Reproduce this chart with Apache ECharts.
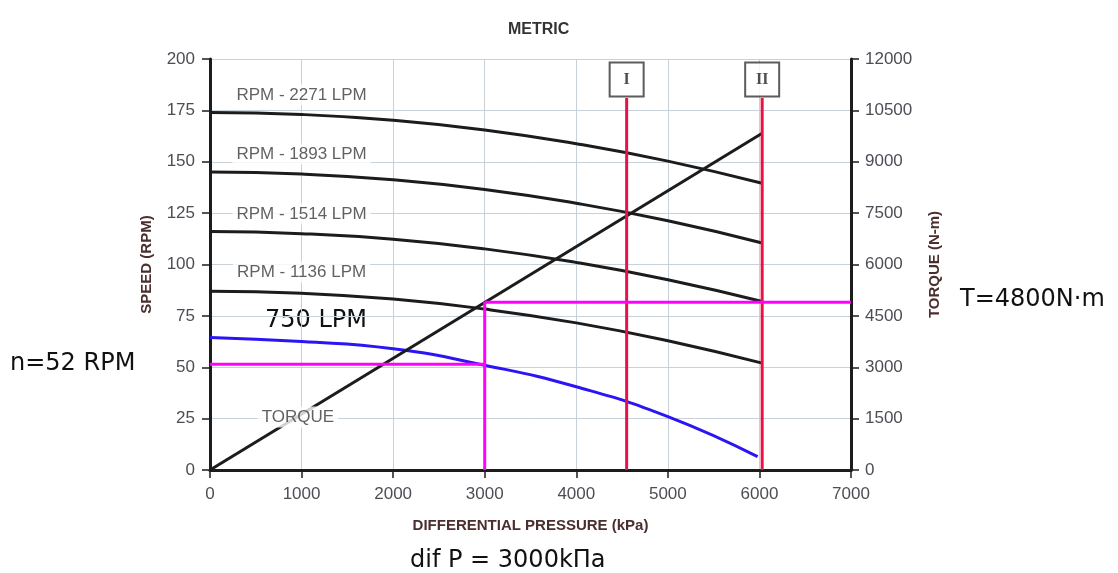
<!DOCTYPE html>
<html>
<head>
<meta charset="utf-8">
<script src="https://cdn.jsdelivr.net/npm/echarts@6/dist/echarts.min.js"></script>
<style>
  html, body { margin: 0; padding: 0; background: #fff; }
  #chart { width: 1118px; height: 573px; }
</style>
</head>
<body>
<div id="chart"></div>
<script>
// 压差 kPa（黑色曲线共用）
var pressure = [0, 1000, 2000, 3000, 4000, 5000, 6030];
var rpm2271 = [174, 173, 170.2, 165.5, 158.8, 150.3, 139.5];
var rpm1893 = [145, 144, 141.2, 136.5, 129.8, 121.3, 110.5];
var rpm1514 = [116, 115, 112.3, 107.6, 101, 92.6, 82];
var rpm1136 = [87, 86, 83.2, 78.3, 71.6, 62.9, 52];
// 750 LPM（蓝线）
var pressure750 = [0, 1000, 2000, 3000, 4000, 5000, 5980];
var rpm750 = [64.5, 62.5, 59, 51, 40.5, 26, 6.5];
// 扭矩直线
var torqueX = [0, 6030];
var torqueY = [0, 9830];
// 工况线 I / II
var limitX = [4550, 6030];
var limitNames = ['I', 'II'];
var limitTop = 181;
var boxY = 190;
// 读数（品红线）
var readP = 3000;
var readN = 51.5;
var readT = 4900;
var readTSpeed = 81.7;
// 曲线标签
var curveLabels = ['RPM - 2271 LPM', 'RPM - 1893 LPM', 'RPM - 1514 LPM', 'RPM - 1136 LPM', 'TORQUE'];
var curveLabelX = [1000, 1000, 1000, 1000, 960];
var curveLabelY = [182.5, 153.8, 124.6, 96.4, 25.8];

function Zip(xs, ys){
  var out = [];
  for (var i = 0; i < xs.length; i++) out.push([xs[i], ys[i]]);
  return out;
}

var black = '#1c1c1c';
var lineFn = function(name, data, color, yIdx, smooth){
  return {
    name: name,
    type: 'line',
    yAxisIndex: yIdx || 0,
    data: data,
    smooth: smooth === undefined ? 0.5 : smooth,
    symbol: 'none',
    silent: true,
    z: 3,
    lineStyle: { color: color, width: 3 }
  };
};

var series = [
  lineFn('2271', Zip(pressure, rpm2271), black),
  lineFn('1893', Zip(pressure, rpm1893), black),
  lineFn('1514', Zip(pressure, rpm1514), black),
  lineFn('1136', Zip(pressure, rpm1136), black),
  lineFn('750', Zip(pressure750, rpm750), '#2b14f5'),
  lineFn('torque', Zip(torqueX, torqueY), black, 1, false)
];
// 红色竖线
limitX.forEach(function(x, i){
  series.push(lineFn('limit' + i, [[x, 0], [x, limitTop]], '#e8124a', 0, false));
});
// 品红读数线
series.push(lineFn('readN', [[0, readN], [readP, readN]], '#ff00ff', 0, false));
series.push(lineFn('readP', [[readP, 0], [readP, readTSpeed]], '#ff00ff', 0, false));
series.push(lineFn('readT', [[readP, readT], [7000, readT]], '#ff00ff', 1, false));
// I / II 方框
series.push({
  type: 'scatter',
  data: limitX.map(function(x, i){ return { value: [x, boxY], name: limitNames[i] }; }),
  symbol: 'rect',
  symbolSize: [34, 34],
  silent: true,
  zlevel: 1,
  itemStyle: { color: '#fff', borderColor: '#333', borderWidth: 2 },
  label: {
    show: true, position: 'inside', formatter: '{b}',
    fontFamily: 'Liberation Serif', fontWeight: 'bold', fontSize: 16, color: '#222'
  }
});
// 曲线文字（白底盖住网格和扭矩线）
series.push({
  type: 'scatter',
  data: curveLabels.map(function(t, i){ return { value: [curveLabelX[i], curveLabelY[i]], name: t }; }),
  symbolSize: 1,
  itemStyle: { color: 'rgba(0,0,0,0)' },
  silent: true,
  zlevel: 1,
  label: {
    show: true, position: 'inside', formatter: '{b}',
    fontFamily: 'Liberation Sans', fontSize: 17, color: '#3a3a3a',
    backgroundColor: '#fff', padding: [2, 4]
  }
});

var axisName = { fontFamily: 'Liberation Sans', fontWeight: 'bold', fontSize: 15, color: '#4b2e2e' };
var tickLabel = { fontFamily: 'Liberation Sans', fontSize: 17, color: '#4d4d55', formatter: function(v){ return String(v); } };
var tickLine = { show: true, length: 8, lineStyle: { color: black, width: 1.5 } };

var option = {
  animation: false,
  backgroundColor: '#fff',
  title: {
    text: 'METRIC', left: 503, top: 17,
    textStyle: { fontFamily: 'Liberation Sans', fontWeight: 'bold', fontSize: 16, color: '#333' }
  },
  grid: { left: 210, right: 267, top: 59, bottom: 103, containLabel: false, outerBoundsMode: 'none' },
  xAxis: {
    type: 'value', min: 0, max: 7000, interval: 1000,
    name: 'DIFFERENTIAL PRESSURE (kPa)', nameLocation: 'middle', nameGap: 48,
    nameTextStyle: axisName,
    axisLine: { lineStyle: { color: black, width: 3 } },
    axisTick: tickLine,
    axisLabel: Object.assign({ margin: 16 }, tickLabel),
    splitLine: { show: true, lineStyle: { color: '#c9d1d8', width: 1 } }
  },
  yAxis: [{
    type: 'value', min: 0, max: 200, interval: 25,
    name: 'SPEED (RPM)', nameLocation: 'middle', nameGap: 56, nameRotate: 90,
    nameTextStyle: axisName,
    axisLine: { show: true, lineStyle: { color: black, width: 3 } },
    axisTick: tickLine,
    axisLabel: Object.assign({ margin: 15 }, tickLabel),
    splitLine: { show: true, lineStyle: { color: '#c9d1d8', width: 1 } }
  }, {
    type: 'value', min: 0, max: 12000, interval: 1500, position: 'right',
    name: 'TORQUE (N-m)', nameLocation: 'middle', nameGap: 76, nameRotate: 90,
    nameTextStyle: axisName,
    axisLine: { show: true, lineStyle: { color: black, width: 3 } },
    axisTick: tickLine,
    axisLabel: Object.assign({ margin: 14 }, tickLabel),
    splitLine: { show: false }
  }],
  graphic: [
    { type: 'text', left: 265, top: 309, style: { text: '750 LPM', font: '24px "DejaVu Sans"', fill: '#111' } },
    { type: 'text', left: 10, top: 352, style: { text: 'n=52 RPM', font: '24px "DejaVu Sans"', fill: '#111' } },
    { type: 'text', left: 960, top: 288, style: { text: 'T=4800N·m', font: '24px "DejaVu Sans"', fill: '#111' } },
    { type: 'text', left: 410, top: 549, style: { text: 'dif P = 3000kПa', font: '24px "DejaVu Sans"', fill: '#111' } }
  ],
  series: series
};

var chart = echarts.init(document.getElementById('chart'));
chart.setOption(option);
</script>
</body>
</html>
